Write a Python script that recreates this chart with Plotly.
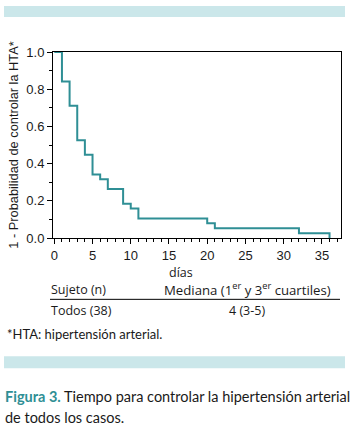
import plotly.graph_objects as go

# Data
dias = [0, 1, 2, 3, 4, 5, 6, 7, 9, 10, 11, 20, 21, 32, 36]
prob = [1.0, 0.842, 0.711, 0.526, 0.447, 0.342, 0.316, 0.263, 0.184, 0.158, 0.105, 0.079, 0.053, 0.026, 0.0]
x_ticks = [0, 5, 10, 15, 20, 25, 30, 35]
y_ticks = [0.0, 0.2, 0.4, 0.6, 0.8, 1.0]
y_tick_labels = ["0.0", "0.2", "0.4", "0.6", "0.8", "1.0"]

W, H = 351, 429
L, R, T, B = 53, 341, 52, 238.5  # plot area in px

TEAL = "#2f8f95"
BAR = "#cbe7ea"
TXT = "#1a1a1a"
FONT = "Lato"

def px(x):
    return (x - L) / (R - L)

def py(y):
    return (B - y) / (B - T)

fig = go.Figure()
fig.add_trace(go.Scatter(
    x=dias, y=prob, mode="lines", line=dict(color=TEAL, width=2, shape="hv"),
    hoverinfo="skip", showlegend=False))

axis_common = dict(showline=True, linecolor="black", linewidth=1, mirror=True,
                   ticks="outside", ticklen=5, tickcolor="black", showgrid=False,
                   zeroline=False, tickfont=dict(family="Liberation Sans", size=13, color=TXT))

fig.update_xaxes(range=[-0.17, 37.5], tickvals=x_ticks,
                 minor=dict(dtick=1, ticks="outside", ticklen=3, tickcolor="black"),
                 **axis_common)
fig.update_yaxes(range=[0, 1], tickvals=y_ticks, ticktext=y_tick_labels,
                 minor=dict(dtick=0.1, ticks="outside", ticklen=3, tickcolor="black"),
                 title=dict(text="1 - Probabilidad de controlar la HTA*", standoff=4,
                            font=dict(family="Liberation Sans", size=12.8, color=TXT)),
                 **axis_common)

shapes = [
    dict(type="rect", xref="paper", yref="paper", x0=px(4), x1=px(345), y0=py(17), y1=py(6),
         fillcolor=BAR, line=dict(width=0), layer="below"),
    dict(type="rect", xref="paper", yref="paper", x0=px(4), x1=px(345), y0=py(369), y1=py(357),
         fillcolor=BAR, line=dict(width=0), layer="below"),
    dict(type="line", xref="paper", yref="paper", x0=px(50), x1=px(340), y0=py(300), y1=py(300),
         line=dict(color="black", width=1)),
]

def ann(text, x, y, xanchor="left", size=12.5, color=TXT, family=FONT):
    return dict(text=text, xref="paper", yref="paper", x=px(x), y=py(y), xanchor=xanchor,
                yanchor="middle", showarrow=False, font=dict(family=family, size=size, color=color))

TF = "Open Sans"
annotations = [
    ann("días", 181, 273, "center", size=12.5, family=TF),
    ann("Sujeto (n)", 49, 290, size=12.5, family=TF),
    ann("Mediana (1<sup>er</sup> y 3<sup>er</sup> cuartiles)", 247, 290, "center", size=13.2, family=TF),
    ann("Todos (38)", 49, 311, size=12.5, family=TF),
    ann("4 (3-5)", 247, 311, "center", size=12.5, family=TF),
    ann("*HTA: hipertensión arterial.", 5, 335, size=13),
    ann("<b><span style='color:%s'>Figura 3.</span></b> Tiempo para controlar la hipertensión arterial" % TEAL,
        3, 397, size=14.5),
    ann("de todos los casos.", 3, 418, size=14.5),
]

fig.update_layout(width=W, height=H, margin=dict(l=L, r=W - R, t=T, b=H - B),
                  plot_bgcolor="white", paper_bgcolor="white",
                  shapes=shapes, annotations=annotations)

fig.write_html("out.html", config={"displayModeBar": False, "staticPlot": True},
               post_script="document.body.style.margin='0';document.body.style.overflow='hidden';")
